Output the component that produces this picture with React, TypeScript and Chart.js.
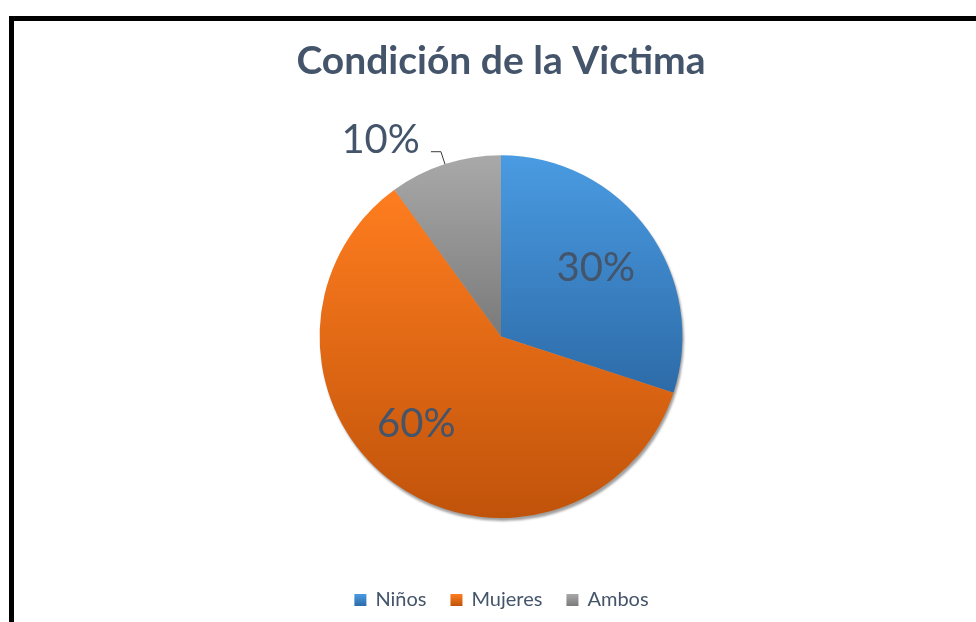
import React, { useEffect, useRef } from "react";
import { Chart, ArcElement, PieController, Legend, Title } from "chart.js";

Chart.register(ArcElement, PieController, Legend, Title);

// ---- data ----
const categories = ["Niños", "Mujeres", "Ambos"];
const values = [30, 60, 10];
const valueLabels = ["30%", "60%", "10%"];
const titleText = "Condición de la Victima";

// ---- styling ----
const gradientTop = ["#4A9BE2", "#FF7D1F", "#A9A9A9"];
const gradientBottom = ["#2D6BA8", "#C0530A", "#7A7A7A"];
const labelRadius = [0.646, 0.672, 1.27];
const labelAngleShift = [0, 8, -13.5]; // degrees
const labelOutside = [false, false, true];
const TEXT = "#44546A";
const FONT = "Lato, 'Open Sans', 'DejaVu Sans', sans-serif";

function sliceAngles(i: number) {
  const total = values.reduce((a, b) => a + b, 0);
  let a0 = -Math.PI / 2;
  for (let j = 0; j < i; j++) a0 += (values[j] / total) * Math.PI * 2;
  const a1 = a0 + (values[i] / total) * Math.PI * 2;
  return [a0, a1];
}

function sliceYRange(cy: number, r: number, a0: number, a1: number) {
  let minY = cy;
  let maxY = cy;
  const pts = [a0, a1];
  for (let k = -4; k <= 4; k++) {
    const a = Math.PI / 2 + k * Math.PI;
    if (a > a0 && a < a1) pts.push(a);
  }
  for (const a of pts) {
    const y = cy + r * Math.sin(a);
    minY = Math.min(minY, y);
    maxY = Math.max(maxY, y);
  }
  return [minY, maxY];
}

function makeGradient(ctx: CanvasRenderingContext2D, y0: number, y1: number, i: number) {
  const g = ctx.createLinearGradient(0, y0, 0, y1);
  g.addColorStop(0, gradientTop[i]);
  g.addColorStop(1, gradientBottom[i]);
  return g;
}

const shadowPlugin = {
  id: "pieShadow",
  beforeDatasetsDraw(chart: any) {
    const el = chart.getDatasetMeta(0).data[0];
    if (!el) return;
    const ctx = chart.ctx as CanvasRenderingContext2D;
    ctx.save();
    ctx.filter = "blur(1px)";
    ctx.fillStyle = "#A0A0A0";
    ctx.beginPath();
    ctx.arc(el.x + 1.5, el.y + 3, el.outerRadius, 0, Math.PI * 2);
    ctx.fill();
    ctx.restore();
  },
};

const labelPlugin = {
  id: "sliceLabels",
  afterDatasetsDraw(chart: any) {
    const meta = chart.getDatasetMeta(0);
    const ctx = chart.ctx as CanvasRenderingContext2D;
    ctx.save();
    ctx.font = `40px ${FONT}`;
    ctx.fillStyle = TEXT;
    ctx.textAlign = "center";
    ctx.textBaseline = "middle";
    meta.data.forEach((el: any, i: number) => {
      const mid = (el.startAngle + el.endAngle) / 2;
      const a = mid + (labelAngleShift[i] * Math.PI) / 180;
      const d = el.outerRadius * labelRadius[i];
      const x = el.x + d * Math.cos(a);
      const y = el.y + d * Math.sin(a);
      ctx.fillText(valueLabels[i], x, y);
      if (labelOutside[i]) {
        const ex = el.x + el.outerRadius * Math.cos(mid);
        const ey = el.y + el.outerRadius * Math.sin(mid);
        const bx = el.x + (el.outerRadius + 13) * Math.cos(mid);
        const by = el.y + (el.outerRadius + 13) * Math.sin(mid);
        const dir = Math.cos(mid) < 0 ? -1 : 1;
        ctx.save();
        ctx.strokeStyle = "#3A3A3A";
        ctx.lineWidth = 1;
        ctx.beginPath();
        ctx.moveTo(ex, ey);
        ctx.lineTo(bx, by);
        ctx.lineTo(bx + dir * 10, by);
        ctx.stroke();
        ctx.restore();
      }
    });
    ctx.restore();
  },
};

const legendBoxPlugin = {
  id: "legendBoxes",
  afterDraw(chart: any) {
    const legend = chart.legend;
    if (!legend || !legend.legendHitBoxes) return;
    const ctx = chart.ctx as CanvasRenderingContext2D;
    const fontSize = 20;
    const box = 12;
    legend.legendHitBoxes.forEach((hb: any, i: number) => {
      const top = hb.top + Math.max((fontSize - box) / 2, 0);
      ctx.save();
      ctx.fillStyle = makeGradient(ctx, top, top + box, i);
      ctx.fillRect(hb.left + 1, top, box, box);
      ctx.restore();
    });
  },
};

export default function App() {
  const canvasRef = useRef<HTMLCanvasElement | null>(null);

  useEffect(() => {
    if (!canvasRef.current) return;
    const chart = new Chart(canvasRef.current, {
      type: "pie",
      data: {
        labels: categories,
        datasets: [
          {
            data: values,
            borderWidth: 0,
            backgroundColor: (c: any) => {
              const i = c.dataIndex ?? 0;
              const area = c.chart.chartArea;
              if (!area) return gradientTop[i];
              const cy = (area.top + area.bottom) / 2;
              const r = Math.min(area.width, area.height) / 2;
              const [a0, a1] = sliceAngles(i);
              const [y0, y1] = sliceYRange(cy, r, a0, a1);
              return makeGradient(c.chart.ctx, y0, y1, i);
            },
          },
        ],
      },
      options: {
        responsive: false,
        animation: false,
        events: [],
        layout: { padding: 0 },
        plugins: {
          title: {
            display: true,
            text: titleText,
            color: TEXT,
            font: { family: FONT, size: 39, weight: "bold" },
            padding: { top: 38, bottom: 70.4 },
          },
          legend: {
            display: true,
            position: "bottom",
            title: {
              display: true,
              text: " ",
              font: { size: 10 },
              padding: { top: 37, bottom: 0 },
            },
            labels: {
              boxWidth: 12,
              boxHeight: 12,
              padding: 23,
              color: TEXT,
              font: { family: FONT, size: 20 },
              generateLabels: () =>
                categories.map((text, i) => ({
                  text,
                  fillStyle: "rgba(0,0,0,0)",
                  strokeStyle: "rgba(0,0,0,0)",
                  lineWidth: 0,
                  hidden: false,
                  index: i,
                  fontColor: TEXT,
                })),
            },
          },
          tooltip: { enabled: false },
        },
      } as any,
      plugins: [shadowPlugin, labelPlugin, legendBoxPlugin],
    });
    return () => chart.destroy();
  }, []);

  return (
    <div
      style={{
        position: "fixed",
        left: 0,
        top: 0,
        width: 976,
        height: 622,
        overflow: "hidden",
        background: "#ffffff",
      }}
    >
      <div
        style={{
          position: "absolute",
          left: 9,
          top: 16,
          width: 1000,
          height: 700,
          border: "5px solid #000",
          boxSizing: "border-box",
        }}
      />
      <canvas
        ref={canvasRef}
        width={976}
        height={620}
        style={{ position: "absolute", left: 13, top: 0, width: 976, height: 620 }}
      />
    </div>
  );
}
